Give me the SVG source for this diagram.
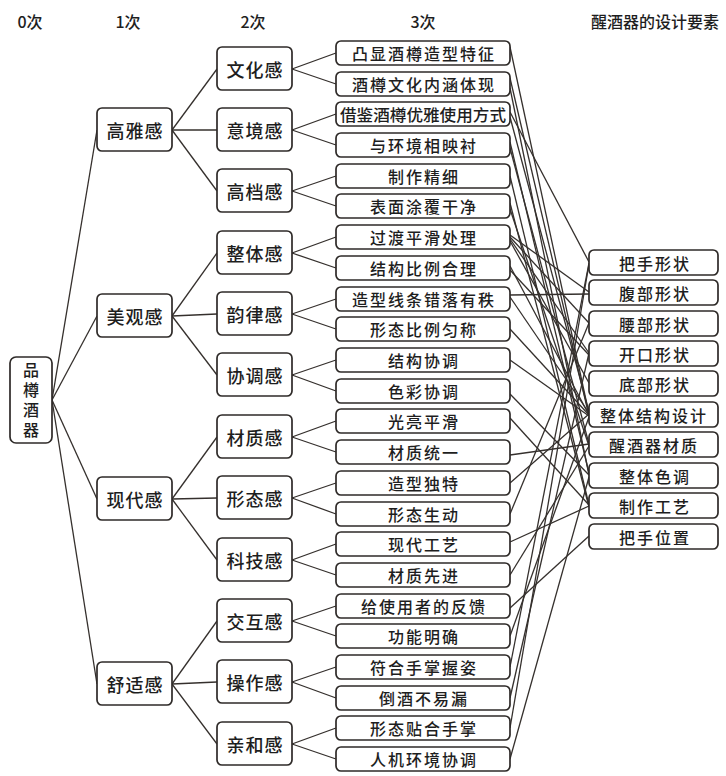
<svg xmlns="http://www.w3.org/2000/svg" width="726" height="776" viewBox="0 0 726 776">
<style>
.b{fill:#fff;stroke:#2e2a28;stroke-width:1.7}
.t{font-family:"Noto Sans CJK SC","Noto Sans",sans-serif;fill:#1e1e1e;text-anchor:middle;dominant-baseline:central;font-weight:500}
.h{font-size:16px}
.n2{font-size:18px;letter-spacing:1px}
.n3{font-size:16px;letter-spacing:2px}
.e{font-size:16px;letter-spacing:2px}
.c line{stroke:#35302d;stroke-width:1.3}
</style>
<rect width="726" height="776" fill="#fff"/>
<g id="headers" class="t h">
<text x="30" y="21">0次</text>
<text x="128" y="21">1次</text>
<text x="253" y="21">2次</text>
<text x="423" y="21">3次</text>
<text x="655" y="21">醒酒器的设计要素</text>
</g>
<g class="c" id="connectors">
<line x1="52" y1="400" x2="97" y2="130"/>
<line x1="52" y1="400" x2="97" y2="316"/>
<line x1="52" y1="400" x2="97" y2="499"/>
<line x1="52" y1="400" x2="97" y2="684"/>
<line x1="172" y1="130" x2="217" y2="69"/>
<line x1="172" y1="130" x2="217" y2="130"/>
<line x1="172" y1="130" x2="217" y2="191"/>
<line x1="172" y1="316" x2="217" y2="253"/>
<line x1="172" y1="316" x2="217" y2="314"/>
<line x1="172" y1="316" x2="217" y2="375"/>
<line x1="172" y1="499" x2="217" y2="437"/>
<line x1="172" y1="499" x2="217" y2="498"/>
<line x1="172" y1="499" x2="217" y2="560"/>
<line x1="172" y1="684" x2="217" y2="621"/>
<line x1="172" y1="684" x2="217" y2="682"/>
<line x1="172" y1="684" x2="217" y2="744"/>
<line x1="292" y1="69" x2="336" y2="53"/>
<line x1="292" y1="69" x2="336" y2="84"/>
<line x1="292" y1="130" x2="336" y2="114"/>
<line x1="292" y1="130" x2="336" y2="145"/>
<line x1="292" y1="191" x2="336" y2="176"/>
<line x1="292" y1="191" x2="336" y2="206"/>
<line x1="292" y1="253" x2="336" y2="237"/>
<line x1="292" y1="253" x2="336" y2="268"/>
<line x1="292" y1="314" x2="336" y2="299"/>
<line x1="292" y1="314" x2="336" y2="329"/>
<line x1="292" y1="375" x2="336" y2="360"/>
<line x1="292" y1="375" x2="336" y2="391"/>
<line x1="292" y1="437" x2="336" y2="421"/>
<line x1="292" y1="437" x2="336" y2="452"/>
<line x1="292" y1="498" x2="336" y2="483"/>
<line x1="292" y1="498" x2="336" y2="514"/>
<line x1="292" y1="560" x2="336" y2="544"/>
<line x1="292" y1="560" x2="336" y2="575"/>
<line x1="292" y1="621" x2="336" y2="606"/>
<line x1="292" y1="621" x2="336" y2="636"/>
<line x1="292" y1="682" x2="336" y2="667"/>
<line x1="292" y1="682" x2="336" y2="698"/>
<line x1="292" y1="744" x2="336" y2="728"/>
<line x1="292" y1="744" x2="336" y2="759"/>
<line x1="510" y1="47" x2="589" y2="414"/>
<line x1="510" y1="78" x2="589" y2="416"/>
<line x1="510" y1="88" x2="589" y2="475"/>
<line x1="510" y1="112" x2="589" y2="262"/>
<line x1="510" y1="117" x2="589" y2="412"/>
<line x1="510" y1="142" x2="589" y2="473"/>
<line x1="510" y1="148" x2="589" y2="444"/>
<line x1="510" y1="176" x2="589" y2="505"/>
<line x1="510" y1="203" x2="589" y2="507"/>
<line x1="510" y1="209" x2="589" y2="446"/>
<line x1="510" y1="235" x2="589" y2="292"/>
<line x1="510" y1="237" x2="589" y2="323"/>
<line x1="510" y1="239" x2="589" y2="353"/>
<line x1="510" y1="241" x2="589" y2="383"/>
<line x1="510" y1="266" x2="589" y2="415"/>
<line x1="510" y1="270" x2="589" y2="355"/>
<line x1="510" y1="297" x2="589" y2="413"/>
<line x1="510" y1="295" x2="589" y2="294"/>
<line x1="510" y1="329" x2="589" y2="415"/>
<line x1="510" y1="360" x2="589" y2="416"/>
<line x1="510" y1="394" x2="589" y2="475"/>
<line x1="510" y1="418" x2="589" y2="505"/>
<line x1="510" y1="455" x2="589" y2="444"/>
<line x1="510" y1="483" x2="589" y2="414"/>
<line x1="510" y1="514" x2="589" y2="323"/>
<line x1="510" y1="542" x2="589" y2="506"/>
<line x1="510" y1="575" x2="589" y2="446"/>
<line x1="510" y1="608" x2="589" y2="536"/>
<line x1="510" y1="636" x2="589" y2="417"/>
<line x1="510" y1="667" x2="589" y2="263"/>
<line x1="510" y1="698" x2="589" y2="353"/>
<line x1="510" y1="728" x2="589" y2="264"/>
<line x1="510" y1="759" x2="589" y2="477"/>
</g>
<g id="root"><rect class="b" x="10" y="357" width="42" height="86" rx="6"/>
<text class="t" x="31" y="402" font-size="16" letter-spacing="4" writing-mode="vertical-rl">品樽酒器</text></g>
<g id="l1-gaoya"><rect class="b" x="97" y="108" width="75" height="43" rx="5"/><text class="t n2" x="135" y="130">高雅感</text></g>
<g id="l1-meiguan"><rect class="b" x="97" y="294" width="75" height="43" rx="5"/><text class="t n2" x="135" y="316">美观感</text></g>
<g id="l1-xiandai"><rect class="b" x="97" y="477" width="75" height="43" rx="5"/><text class="t n2" x="135" y="499">现代感</text></g>
<g id="l1-shushi"><rect class="b" x="97" y="662" width="75" height="43" rx="5"/><text class="t n2" x="135" y="684">舒适感</text></g>
<g id="l2-wenhua"><rect class="b" x="217" y="47" width="75" height="43" rx="5"/><text class="t n2" x="255" y="69">文化感</text></g>
<g id="l2-yijing"><rect class="b" x="217" y="108" width="75" height="43" rx="5"/><text class="t n2" x="255" y="130">意境感</text></g>
<g id="l2-gaodang"><rect class="b" x="217" y="169" width="75" height="43" rx="5"/><text class="t n2" x="255" y="191">高档感</text></g>
<g id="l2-zhengti"><rect class="b" x="217" y="231" width="75" height="43" rx="5"/><text class="t n2" x="255" y="253">整体感</text></g>
<g id="l2-yunlv"><rect class="b" x="217" y="292" width="75" height="43" rx="5"/><text class="t n2" x="255" y="314">韵律感</text></g>
<g id="l2-xietiao"><rect class="b" x="217" y="353" width="75" height="43" rx="5"/><text class="t n2" x="255" y="375">协调感</text></g>
<g id="l2-caizhi"><rect class="b" x="217" y="415" width="75" height="43" rx="5"/><text class="t n2" x="255" y="437">材质感</text></g>
<g id="l2-xingtai"><rect class="b" x="217" y="476" width="75" height="43" rx="5"/><text class="t n2" x="255" y="498">形态感</text></g>
<g id="l2-keji"><rect class="b" x="217" y="538" width="75" height="43" rx="5"/><text class="t n2" x="255" y="560">科技感</text></g>
<g id="l2-jiaohu"><rect class="b" x="217" y="599" width="75" height="43" rx="5"/><text class="t n2" x="255" y="621">交互感</text></g>
<g id="l2-caozuo"><rect class="b" x="217" y="660" width="75" height="43" rx="5"/><text class="t n2" x="255" y="682">操作感</text></g>
<g id="l2-qinhe"><rect class="b" x="217" y="722" width="75" height="43" rx="5"/><text class="t n2" x="255" y="744">亲和感</text></g>
<g id="l3-0"><rect class="b" x="336" y="41" width="174" height="24" rx="5"/><text class="t n3" x="424" y="53">凸显酒樽造型特征</text></g>
<g id="l3-1"><rect class="b" x="336" y="72" width="174" height="24" rx="5"/><text class="t n3" x="424" y="84">酒樽文化内涵体现</text></g>
<g id="l3-2"><rect class="b" x="336" y="102" width="174" height="24" rx="5"/><text class="t" x="423" y="114" font-size="16" textLength="166" lengthAdjust="spacingAndGlyphs">借鉴酒樽优雅使用方式</text></g>
<g id="l3-3"><rect class="b" x="336" y="133" width="174" height="24" rx="5"/><text class="t n3" x="424" y="145">与环境相映衬</text></g>
<g id="l3-4"><rect class="b" x="336" y="164" width="174" height="24" rx="5"/><text class="t n3" x="424" y="176">制作精细</text></g>
<g id="l3-5"><rect class="b" x="336" y="194" width="174" height="24" rx="5"/><text class="t n3" x="424" y="206">表面涂覆干净</text></g>
<g id="l3-6"><rect class="b" x="336" y="225" width="174" height="24" rx="5"/><text class="t n3" x="424" y="237">过渡平滑处理</text></g>
<g id="l3-7"><rect class="b" x="336" y="256" width="174" height="24" rx="5"/><text class="t n3" x="424" y="268">结构比例合理</text></g>
<g id="l3-8"><rect class="b" x="336" y="287" width="174" height="24" rx="5"/><text class="t n3" x="424" y="299">造型线条错落有秩</text></g>
<g id="l3-9"><rect class="b" x="336" y="317" width="174" height="24" rx="5"/><text class="t n3" x="424" y="329">形态比例匀称</text></g>
<g id="l3-10"><rect class="b" x="336" y="348" width="174" height="24" rx="5"/><text class="t n3" x="424" y="360">结构协调</text></g>
<g id="l3-11"><rect class="b" x="336" y="379" width="174" height="24" rx="5"/><text class="t n3" x="424" y="391">色彩协调</text></g>
<g id="l3-12"><rect class="b" x="336" y="409" width="174" height="24" rx="5"/><text class="t n3" x="424" y="421">光亮平滑</text></g>
<g id="l3-13"><rect class="b" x="336" y="440" width="174" height="24" rx="5"/><text class="t n3" x="424" y="452">材质统一</text></g>
<g id="l3-14"><rect class="b" x="336" y="471" width="174" height="24" rx="5"/><text class="t n3" x="424" y="483">造型独特</text></g>
<g id="l3-15"><rect class="b" x="336" y="502" width="174" height="24" rx="5"/><text class="t n3" x="424" y="514">形态生动</text></g>
<g id="l3-16"><rect class="b" x="336" y="532" width="174" height="24" rx="5"/><text class="t n3" x="424" y="544">现代工艺</text></g>
<g id="l3-17"><rect class="b" x="336" y="563" width="174" height="24" rx="5"/><text class="t n3" x="424" y="575">材质先进</text></g>
<g id="l3-18"><rect class="b" x="336" y="594" width="174" height="24" rx="5"/><text class="t n3" x="424" y="606">给使用者的反馈</text></g>
<g id="l3-19"><rect class="b" x="336" y="624" width="174" height="24" rx="5"/><text class="t n3" x="424" y="636">功能明确</text></g>
<g id="l3-20"><rect class="b" x="336" y="655" width="174" height="24" rx="5"/><text class="t n3" x="424" y="667">符合手掌握姿</text></g>
<g id="l3-21"><rect class="b" x="336" y="686" width="174" height="24" rx="5"/><text class="t n3" x="424" y="698">倒酒不易漏</text></g>
<g id="l3-22"><rect class="b" x="336" y="716" width="174" height="24" rx="5"/><text class="t n3" x="424" y="728">形态贴合手掌</text></g>
<g id="l3-23"><rect class="b" x="336" y="747" width="174" height="24" rx="5"/><text class="t n3" x="424" y="759">人机环境协调</text></g>
<g id="e-0"><rect class="b" x="589" y="250" width="129" height="25" rx="5"/><text class="t e" x="655" y="262.5">把手形状</text></g>
<g id="e-1"><rect class="b" x="589" y="280" width="129" height="25" rx="5"/><text class="t e" x="655" y="292.5">腹部形状</text></g>
<g id="e-2"><rect class="b" x="589" y="311" width="129" height="25" rx="5"/><text class="t e" x="655" y="323.5">腰部形状</text></g>
<g id="e-3"><rect class="b" x="589" y="341" width="129" height="25" rx="5"/><text class="t e" x="655" y="353.5">开口形状</text></g>
<g id="e-4"><rect class="b" x="589" y="371" width="129" height="25" rx="5"/><text class="t e" x="655" y="383.5">底部形状</text></g>
<g id="e-5"><rect class="b" x="589" y="402" width="129" height="25" rx="5"/><text class="t e" x="654" y="414.5" letter-spacing="1">整体结构设计</text></g>
<g id="e-6"><rect class="b" x="589" y="432" width="129" height="25" rx="5"/><text class="t e" x="654" y="444.5" letter-spacing="1">醒酒器材质</text></g>
<g id="e-7"><rect class="b" x="589" y="463" width="129" height="25" rx="5"/><text class="t e" x="655" y="475.5">整体色调</text></g>
<g id="e-8"><rect class="b" x="589" y="493" width="129" height="25" rx="5"/><text class="t e" x="655" y="505.5">制作工艺</text></g>
<g id="e-9"><rect class="b" x="589" y="524" width="129" height="25" rx="5"/><text class="t e" x="655" y="536.5">把手位置</text></g>
</svg>
